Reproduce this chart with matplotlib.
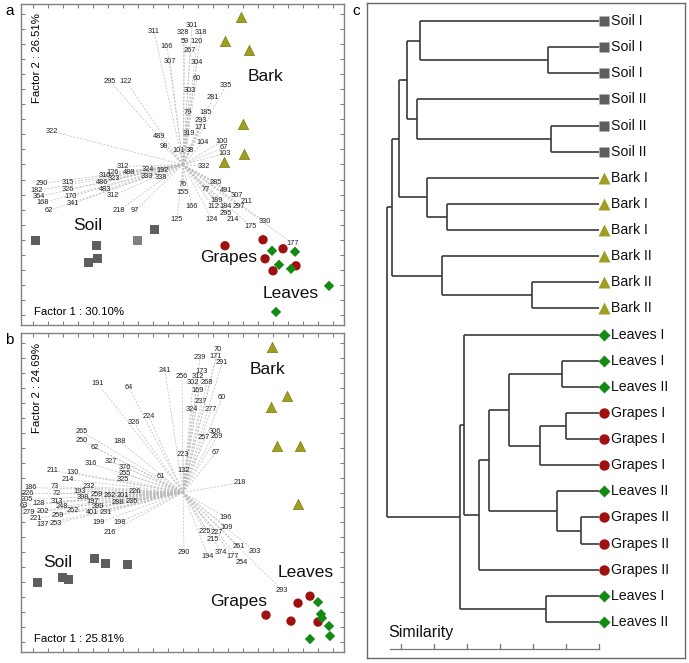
import numpy as np
import matplotlib
matplotlib.use("Agg")
import matplotlib.pyplot as plt

plt.rcParams['font.family'] = ['Liberation Sans', 'DejaVu Sans']

# ---- colours per sample type ----
SOIL_C = "#5e5e5e"
BARK_C = "#9e9e22"
GRAPE_C = "#a01010"
LEAF_C = "#138a13"

# ---- panel a: PCA scores (factor 1, factor 2) ----
A_SOIL = [(-1.48, -0.76), (-0.87, -0.81), (-0.95, -0.98), (-0.86, -0.94), (-0.46, -0.76), (-0.29, -0.65)]
A_SOIL_SHADE = ["#5e5e5e", "#5e5e5e", "#5e5e5e", "#5e5e5e", "#808080", "#5e5e5e"]
A_BARK = [(0.58, 1.47), (0.42, 1.23), (0.66, 1.14), (0.60, 0.40), (0.61, 0.10), (0.41, 0.02)]
A_GRAPES = [(0.42, -0.81), (0.80, -0.75), (1.00, -0.84), (0.82, -0.94), (0.90, -1.06), (1.13, -1.01)]
A_LEAVES = [(0.89, -0.86), (1.12, -0.87), (0.96, -1.00), (1.08, -1.04), (1.46, -1.21), (0.93, -1.47)]

# loadings of panel a (label, factor 1, factor 2)
A_LOADINGS = [
    ("311", -0.29, 1.33), ("166", -0.16, 1.18), ("307", -0.13, 1.03), ("295", -0.73, 0.83),
    ("122", -0.57, 0.83), ("322", -1.31, 0.33), ("489", -0.24, 0.28), ("98", -0.19, 0.18),
    ("301", 0.09, 1.39), ("328", 0.00, 1.32), ("318", 0.18, 1.32), ("59", 0.02, 1.23),
    ("120", 0.14, 1.23), ("267", 0.07, 1.14), ("304", 0.14, 1.02), ("60", 0.14, 0.86),
    ("335", 0.43, 0.79), ("303", 0.07, 0.74), ("281", 0.30, 0.67), ("79", 0.05, 0.52),
    ("185", 0.23, 0.52), ("293", 0.18, 0.44), ("171", 0.18, 0.37), ("319", 0.06, 0.31),
    ("104", 0.20, 0.22), ("100", 0.39, 0.23), ("67", 0.41, 0.17), ("103", 0.42, 0.11),
    ("101", -0.04, 0.14), ("38", 0.07, 0.14), ("332", 0.21, -0.02), ("312", -0.60, -0.02),
    ("126", -0.70, -0.08), ("488", -0.54, -0.08), ("323", -0.69, -0.14), ("324", -0.35, -0.05),
    ("192", -0.20, -0.06), ("333", -0.36, -0.12), ("338", -0.22, -0.13), ("310", -0.78, -0.11),
    ("486", -0.81, -0.18), ("483", -0.78, -0.25), ("312", -0.70, -0.31), ("290", -1.41, -0.19),
    ("315", -1.15, -0.18), ("182", -1.46, -0.26), ("326", -1.15, -0.25), ("364", -1.44, -0.32),
    ("170", -1.12, -0.32), ("168", -1.40, -0.38), ("341", -1.10, -0.39), ("62", -1.34, -0.46),
    ("218", -0.64, -0.46), ("97", -0.48, -0.46), ("76", 0.00, -0.20), ("155", -0.01, -0.28),
    ("166", 0.09, -0.42), ("125", -0.06, -0.55), ("124", 0.29, -0.55), ("285", 0.33, -0.18),
    ("77", 0.23, -0.25), ("491", 0.43, -0.26), ("307", 0.54, -0.31), ("211", 0.64, -0.37),
    ("189", 0.34, -0.36), ("112", 0.30, -0.42), ("184", 0.43, -0.42), ("297", 0.56, -0.42),
    ("295", 0.43, -0.49), ("214", 0.50, -0.55), ("175", 0.68, -0.62), ("330", 0.82, -0.57),
    ("177", 1.10, -0.79),
]
A_GROUP_TEXT = [("Bark", 0.82, 0.88), ("Soil", -0.95, -0.61), ("Grapes", 0.46, -0.93), ("Leaves", 1.08, -1.29)]
A_FACTORS = ("Factor 1 : 30.10%", "Factor 2 : 26.51%")

# ---- panel b ----
B_SOIL = [(-1.46, -0.90), (-1.21, -0.85), (-1.15, -0.87), (-0.89, -0.66), (-0.78, -0.71), (-0.56, -0.72)]
B_SOIL_SHADE = ["#5e5e5e"] * 6
B_BARK = [(0.89, 1.46), (1.04, 0.97), (0.88, 0.86), (0.94, 0.47), (1.17, 0.47), (1.15, -0.12)]
B_GRAPES = [(1.27, -1.04), (1.15, -1.11), (0.83, -1.23), (1.08, -1.29), (1.35, -1.30)]
B_LEAVES = [(1.35, -1.10), (1.38, -1.22), (1.39, -1.26), (1.46, -1.34), (1.47, -1.44), (1.27, -1.47)]

B_LOADINGS = [
    ("241", -0.18, 1.22), ("191", -0.85, 1.09), ("64", -0.54, 1.05), ("224", -0.34, 0.76),
    ("326", -0.49, 0.70), ("265", -1.01, 0.61), ("250", -1.01, 0.52), ("188", -0.63, 0.51),
    ("62", -0.88, 0.45), ("316", -0.92, 0.29), ("327", -0.72, 0.31), ("376", -0.58, 0.25),
    ("255", -0.58, 0.19), ("325", -0.60, 0.13), ("61", -0.22, 0.16), ("211", -1.30, 0.22),
    ("130", -1.10, 0.20), ("214", -1.15, 0.13), ("70", 0.35, 1.43), ("239", 0.17, 1.35),
    ("171", 0.33, 1.36), ("291", 0.39, 1.30), ("256", -0.01, 1.16), ("173", 0.19, 1.21),
    ("312", 0.15, 1.16), ("302", 0.10, 1.10), ("268", 0.24, 1.10), ("169", 0.15, 1.02),
    ("60", 0.39, 0.95), ("237", 0.18, 0.91), ("324", 0.09, 0.83), ("277", 0.28, 0.83),
    ("306", 0.32, 0.61), ("257", 0.21, 0.55), ("269", 0.34, 0.56), ("223", 0.00, 0.38),
    ("67", 0.33, 0.40), ("132", 0.01, 0.22), ("218", 0.57, 0.10), ("186", -1.52, 0.05),
    ("73", -1.28, 0.06), ("232", -0.94, 0.06), ("72", -1.26, -0.01), ("226", -1.55, -0.01),
    ("193", -1.03, 0.01), ("205", -1.56, -0.07), ("398", -1.00, -0.05), ("259", -0.86, -0.02),
    ("262", -0.73, -0.03), ("201", -0.60, -0.03), ("226", -0.48, 0.01), ("197", -0.90, -0.09),
    ("288", -0.65, -0.10), ("235", -0.51, -0.09), ("63", -1.59, -0.13), ("128", -1.44, -0.11),
    ("313", -1.26, -0.09), ("248", -1.21, -0.14), ("399", -0.85, -0.14), ("262", -1.10, -0.18),
    ("401", -0.91, -0.20), ("231", -0.77, -0.20), ("279", -1.54, -0.20), ("202", -1.40, -0.19),
    ("259", -1.25, -0.23), ("221", -1.47, -0.26), ("137", -1.40, -0.32), ("253", -1.27, -0.31),
    ("199", -0.84, -0.30), ("198", -0.63, -0.30), ("216", -0.73, -0.40), ("196", 0.43, -0.25),
    ("109", 0.44, -0.35), ("225", 0.22, -0.39), ("227", 0.34, -0.40), ("215", 0.30, -0.47),
    ("261", 0.56, -0.54), ("203", 0.72, -0.59), ("290", 0.01, -0.60), ("194", 0.25, -0.64),
    ("374", 0.38, -0.60), ("177", 0.50, -0.64), ("254", 0.59, -0.70), ("293", 0.99, -0.98),
]
B_GROUP_TEXT = [("Bark", 0.84, 1.23), ("Soil", -1.25, -0.70), ("Leaves", 1.23, -0.80), ("Grapes", 0.56, -1.09)]
B_FACTORS = ("Factor 1 : 25.81%", "Factor 2 : 24.69%")

# ---- panel c: dendrogram ----
LEAF_NAMES = ["Soil I", "Soil I", "Soil I", "Soil II", "Soil II", "Soil II",
              "Bark I", "Bark I", "Bark I", "Bark II", "Bark II", "Bark II",
              "Leaves I", "Leaves I", "Leaves II", "Grapes I", "Grapes I", "Grapes I",
              "Leaves II", "Grapes II", "Grapes II", "Grapes II", "Leaves I", "Leaves II"]
# merges: (child a, child b, height); new cluster ids start at len(LEAF_NAMES)
MERGES = [(1, 2, 1.55), (0, 24, 5.42), (4, 5, 1.45), (3, 26, 5.52), (25, 27, 5.82),
          (7, 8, 4.61), (6, 29, 5.21), (28, 30, 6.06), (10, 11, 2.03), (9, 32, 4.76),
          (31, 33, 6.27), (13, 14, 1.12), (15, 16, 1.00), (36, 17, 1.79), (35, 37, 2.73),
          (19, 20, 0.55), (18, 39, 1.27), (38, 40, 3.33), (41, 21, 3.64), (12, 42, 4.09),
          (22, 23, 1.61), (43, 44, 4.21), (34, 45, 6.42)]
SIM_TICKS = [0, 1, 2, 3, 4, 5, 6]


def biplot(ax, loadings, soil, soil_shade, bark, grapes, leaves, group_text, factors):
    for lab, lx, ly in loadings:
        ax.plot([0, lx], [0, ly], color="#bcbcbc", lw=0.5, ls=(0, (3, 2)), zorder=1)
        ax.text(lx, ly, lab, fontsize=5.3, ha="center", va="center", color="#222222", zorder=2)

    sx, sy = zip(*soil)
    ax.scatter(sx, sy, marker="s", s=42, c=soil_shade, edgecolors="none", zorder=3)
    bx, by = zip(*bark)
    ax.scatter(bx, by, marker="^", s=55, c=BARK_C, edgecolors="#7d7d10", linewidths=0.5, zorder=3)
    gx, gy = zip(*grapes)
    ax.scatter(gx, gy, marker="o", s=45, c=GRAPE_C, edgecolors="none", zorder=3)
    lx_, ly_ = zip(*leaves)
    ax.scatter(lx_, ly_, marker="D", s=28, c=LEAF_C, edgecolors="none", zorder=3)

    for txt, tx, ty in group_text:
        ax.text(tx, ty, txt, fontsize=12.5, ha="center", va="center", color="#111111", zorder=4)

    ax.text(0.04, 0.025, factors[0], transform=ax.transAxes, fontsize=8.2, ha="left", va="bottom")
    ax.text(0.05, 0.97, factors[1], transform=ax.transAxes, fontsize=8.2, ha="center", va="top",
            rotation=90)

    ax.set_xlim(-1.62, 1.61)
    ax.set_ylim(-1.60, 1.60)
    ax.set_xticks(np.arange(-1.50, 1.61, 0.15))
    ax.set_yticks(np.arange(-1.50, 1.61, 0.15))
    ax.tick_params(direction="in", top=True, right=True, length=3, width=0.8, color="#808080",
                   labelbottom=False, labelleft=False)
    for sp in ax.spines.values():
        sp.set_color("#808080")
        sp.set_linewidth(1.0)


def leaf_style(name):
    if name.startswith("Soil"):
        return "s", SOIL_C, 7
    if name.startswith("Bark"):
        return "^", BARK_C, 8.5
    if name.startswith("Grapes"):
        return "o", GRAPE_C, 7.5
    return "D", LEAF_C, 6.5


fig = plt.figure(figsize=(6.89, 6.63), dpi=100)

ax_a = fig.add_axes([0.0305, 0.5098, 0.4688, 0.4842])
biplot(ax_a, A_LOADINGS, A_SOIL, A_SOIL_SHADE, A_BARK, A_GRAPES, A_LEAVES, A_GROUP_TEXT, A_FACTORS)

ax_b = fig.add_axes([0.0305, 0.0166, 0.4688, 0.4811])
biplot(ax_b, B_LOADINGS, B_SOIL, B_SOIL_SHADE, B_BARK, B_GRAPES, B_LEAVES, B_GROUP_TEXT, B_FACTORS)

# dendrogram
ax_c = fig.add_axes([0.5327, 0.0075, 0.4615, 0.988])
n = len(LEAF_NAMES)
pos = {i: (float(i), 0.0) for i in range(n)}  # cluster id -> (y, height)
line_kw = dict(color="#3a3a3a", lw=1.2, solid_capstyle="butt")
for k, (c1, c2, h) in enumerate(MERGES):
    y1, h1 = pos[c1]
    y2, h2 = pos[c2]
    ax_c.plot([h, h], [y1, y2], **line_kw)
    ax_c.plot([h1, h], [y1, y1], **line_kw)
    ax_c.plot([h2, h], [y2, y2], **line_kw)
    pos[n + k] = ((y1 + y2) / 2, h)

for i, name in enumerate(LEAF_NAMES):
    m, col, ms = leaf_style(name)
    ax_c.plot(-0.15, i, marker=m, color=col, ms=ms, mec="none", zorder=3)
    ax_c.text(-0.36, i, name, fontsize=10.2, ha="left", va="center", color="#111111")

# similarity scale
ax_c.plot([6.33, 0], [24.03, 24.03], color="#777777", lw=0.9)
for t in SIM_TICKS:
    ax_c.plot([t, t], [24.03, 23.85], color="#777777", lw=0.9)
ax_c.text(6.39, 23.42, "Similarity", fontsize=11.5, ha="left", va="center", color="#111111")

ax_c.set_xlim(7.03, -2.61)
ax_c.set_ylim(24.38, -0.69)
ax_c.set_xticks([])
ax_c.set_yticks([])
for sp in ax_c.spines.values():
    sp.set_color("#6a6a6a")
    sp.set_linewidth(1.0)

fig.text(5 / 689, 1 - 11 / 663, "a", fontsize=11, ha="left", va="center")
fig.text(5 / 689, 1 - 340 / 663, "b", fontsize=11, ha="left", va="center")
fig.text(352 / 689, 1 - 11 / 663, "c", fontsize=11, ha="left", va="center")

fig.savefig("out.png", dpi=100)
